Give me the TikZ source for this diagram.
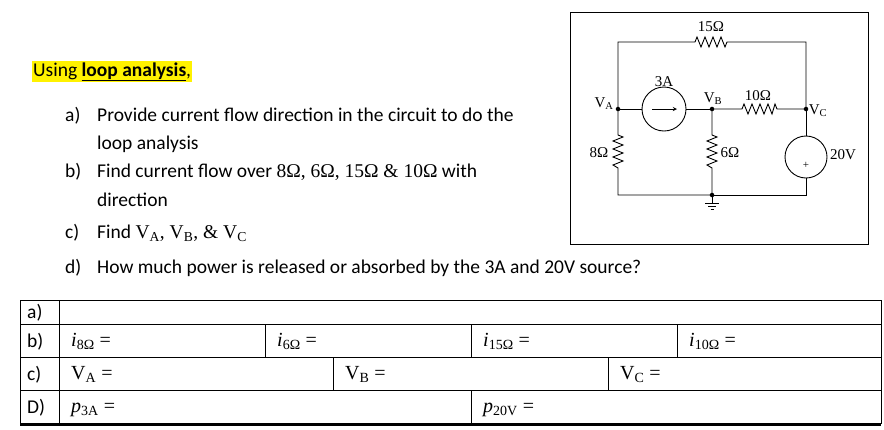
\documentclass[tikz,border=0pt]{standalone}
\usepackage{fontspec}
\setmainfont{Carlito}
\newfontfamily\tms{Liberation Serif}
\begin{document}
\begin{tikzpicture}[x=1pt,y=-1pt,
  txt/.style={anchor=base west,inner sep=0,font=\fontsize{19.5}{22}\selectfont},
  ser/.style={inner sep=0,font=\tms\fontsize{15}{17}\selectfont},
  cell/.style={anchor=base west,inner sep=0,font=\tms\fontsize{20}{22}\selectfont},
  wire/.style={line width=0.9pt},
  dot/.style={circle,fill,inner sep=1.6pt}]
\useasboundingbox (0,0) rectangle (884,429);
% heading text
\node[txt,fill=yellow,inner sep=1pt] (h) at (32,76) {Using \textbf{\underline{loop analysis}},};
\node[txt] (la) at (65,121) {a)};
\node[txt] (qa) at (97,121) {Provide current flow direction in the circuit to do the};
\node[txt] (qa2) at (97,149) {loop analysis};
\node[txt] (lb) at (65,177) {b)};
\node[txt] (qb) at (97,177) {Find current flow over {\tms 8Ω, 6Ω, 15Ω \& 10Ω} with};
\node[txt] (qb2) at (97,206) {direction};
\node[txt] (lc) at (65,238) {c)};
\node[txt] (qc) at (97,238) {Find {\tms V\textsubscript{A}, V\textsubscript{B}, \& V\textsubscript{C}}};
\node[txt] (ld) at (65,273) {d)};
\node[txt] (qd) at (97,273) {How much power is released or absorbed by the 3A and 20V source?};
% circuit frame
\draw[line width=0.6pt] (570,12) rectangle (868,244);
\coordinate (A) at (618,109); \coordinate (B) at (712,109); \coordinate (C) at (806,109);
\coordinate (TL) at (618,42); \coordinate (TR) at (806,42);
\coordinate (BL) at (618,195); \coordinate (G) at (712,195); \coordinate (BR) at (806,195);
\draw[wire] (A) -- (TL) -- (695,42) -- (697,37) -- (701,47) -- (705,37) -- (709,47) -- (713,37) -- (717,47) -- (721,37) -- (725,47) -- (727,42) -- (TR) -- (C);
\node[draw,circle,wire,minimum size=44pt,inner sep=0] (S) at (664,109) {};
\draw[wire] (A) -- (S.west); \draw[wire] (S.east) -- (B);
\draw[wire,->,>=stealth] (652,109) -- (677,109);
\draw[wire] (B) -- (742,109) -- (744,104) -- (748,114) -- (752,104) -- (756,114) -- (760,104) -- (764,114) -- (768,104) -- (772,114) -- (775,104) -- (777,109) -- (C);
\draw[wire] (A) -- (618,135) -- (623,137) -- (613,141) -- (623,145) -- (613,149) -- (623,153) -- (613,157) -- (623,161) -- (613,165) -- (618,168) -- (BL) -- (G);
\draw[wire] (B) -- (712,135) -- (717,137) -- (707,141) -- (717,145) -- (707,149) -- (717,153) -- (707,157) -- (717,161) -- (707,165) -- (712,168) -- (G);
\node[draw,circle,wire,minimum size=42pt,inner sep=0] (V) at (806,157) {};
\node[inner sep=0,font=\tms\fontsize{11}{12}\selectfont] (plus) at (806,165) {+};
\draw[wire] (C) -- (V.north); \draw[wire] (V.south) -- (BR) -- (G);
\draw[wire] (G) -- (712,203);
\draw[wire] (705,203) -- (719,203) (708,206) -- (716,206) (710.5,209) -- (713.5,209);
\node[dot] (dA) at (A) {}; \node[dot] (dB) at (B) {}; \node[dot] (dC) at (C) {}; \node[dot] (dG) at (G) {};
\node[ser] (l15) at (711,27) {15Ω};
\node[ser] (l3) at (664,82) {3A};
\node[ser] (lva) at (604,104) {V\textsubscript{A}};
\node[ser] (lvb) at (713,99) {V\textsubscript{B}};
\node[ser] (l10) at (758,96) {10Ω};
\node[ser] (lvc) at (818,111) {V\textsubscript{C}};
\node[ser] (l8) at (599,153) {8Ω};
\node[ser] (l6) at (730,153) {6Ω};
\node[ser] (l20) at (843,155) {20V};
% table
\draw[line width=0.8pt] (20,300) rectangle (881,423);
\draw[line width=0.8pt] (59,300) -- (59,423);
\foreach \y in {324,357,390} \draw[line width=0.8pt] (20,\y) -- (881,\y);
\draw[line width=0.8pt] (265,324) -- (265,357) (471,324) -- (471,357) (677,324) -- (677,357);
\draw[line width=0.8pt] (333,357) -- (333,390) (608,357) -- (608,390) (471,390) -- (471,423);
\draw[line width=1.4pt] (20,425) -- (881,425);
\node[txt] (ta) at (27,318) {a)};
\node[txt] (tb) at (27,347) {b)};
\node[txt] (tc) at (27,380) {c)};
\node[txt] (td) at (27,413) {D)};
\node[cell] (i8) at (71,346) {\textit{i}\textsubscript{8Ω} =};
\node[cell] (i6) at (277,346) {\textit{i}\textsubscript{6Ω} =};
\node[cell] (i15) at (483,346) {\textit{i}\textsubscript{15Ω} =};
\node[cell] (i10) at (689,346) {\textit{i}\textsubscript{10Ω} =};
\node[cell] (va) at (71,379) {V\textsubscript{A} =};
\node[cell] (vb) at (345,379) {V\textsubscript{B} =};
\node[cell] (vc) at (620,379) {V\textsubscript{C} =};
\node[cell] (p3) at (71,412) {\textit{p}\textsubscript{3A} =};
\node[cell] (p20) at (483,412) {\textit{p}\textsubscript{20V} =};
\end{tikzpicture}
\end{document}
